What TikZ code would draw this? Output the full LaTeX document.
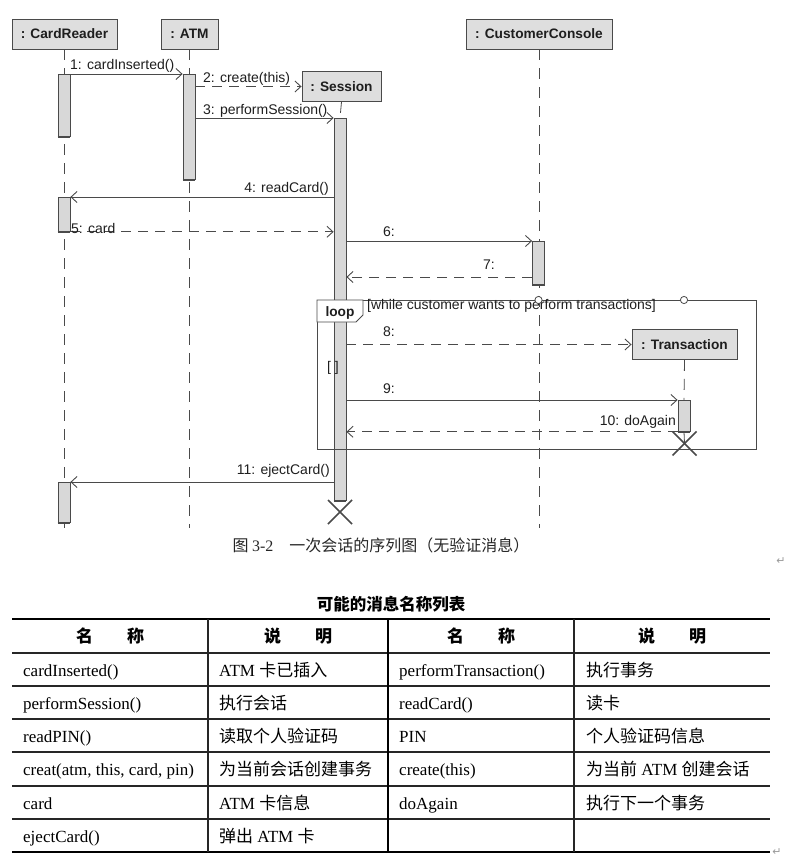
\documentclass[tikz,border=0pt]{standalone}
\usepackage{fontspec}
\setmainfont{Liberation Serif}
\newfontfamily\umlfont{Liberation Sans}
\newfontfamily\cjk{Noto Sans CJK SC}
\newfontfamily\symfont{DejaVu Sans}
\usetikzlibrary{arrows.meta,calc}
\definecolor{linec}{HTML}{4A4A4A}
\definecolor{boxfill}{HTML}{DEDEDE}
\definecolor{actfill}{HTML}{D8D8D8}
\definecolor{textc}{HTML}{1E1E1E}
\definecolor{markc}{HTML}{9A9A9A}
\tikzset{
  obj/.style={draw=linec, fill=boxfill, line width=0.9pt, text=textc,
    font=\umlfont\bfseries\fontsize{13.7}{15}\selectfont, minimum height=30pt, inner sep=0pt},
  act/.style={draw=linec, fill=actfill, line width=0.8pt, minimum width=12pt, inner sep=0pt, anchor=north},
  life/.style={draw=linec, line width=0.8pt, dash pattern=on 11pt off 8pt},
  msg/.style={draw=linec, line width=0.8pt, -{Straight Barb[length=6pt,width=11pt,line width=0.9pt]}},
  retmsg/.style={msg, dash pattern=on 10pt off 7pt},
  lbl/.style={font=\umlfont\fontsize{14}{16}\selectfont, inner sep=0pt, text=textc},
  tagtxt/.style={font=\umlfont\bfseries\fontsize{13.7}{15}\selectfont, inner sep=0pt, text=textc},
  cell/.style={font=\fontsize{17}{19}\selectfont, inner sep=0pt, anchor=base west, text=black},
  hcell/.style={font=\cjk\bfseries\fontsize{17}{19}\selectfont, inner sep=0pt, anchor=base, text=black},
  tline/.style={line width=1.3pt, draw=black!85},
  tthick/.style={line width=2.6pt, draw=black},
  endx/.style={draw=linec, line width=1.6pt},
}
\begin{document}
\begin{tikzpicture}[x=1pt,y=-1pt]
\useasboundingbox (0,0) rectangle (803,861);

% ---------- object headers ----------
\node[obj, minimum width=105pt] (cr) at (64.5,34) {: CardReader};
\node[obj, minimum width=57pt] (atm) at (189.5,34) {: ATM};
\node[obj, minimum width=146pt] (cc) at (539,34) {: CustomerConsole};
\node[obj, minimum width=79pt] (sess) at (341.5,86.5) {: Session};
\node[obj, minimum width=105pt] (tr) at (684.5,344.5) {: Transaction};

\coordinate (lend) at (0,528);
\coordinate (xs) at (340,512);
\coordinate (xt) at (684.5,443.5);

% ---------- lifelines ----------
\draw[life] (cr.south) -- (cr.south |- lend);
\draw[life] (atm.south) -- (atm.south |- lend);
\draw[life] (cc.south) -- (cc.south |- lend);

% ---------- activation bars ----------
\node[act, minimum height=62pt] (crA1) at (64,74) {};
\node[act, minimum height=34pt] (crA2) at (64,197) {};
\node[act, minimum height=40pt] (crA3) at (64,482) {};
\node[act, minimum height=105pt] (atmA) at (189,74) {};
\node[act, minimum height=382pt] (sesA) at (340,118) {};
\node[act, minimum height=43pt] (ccA) at (538.5,241) {};
\node[act, minimum height=31pt] (trA) at (684,400) {};
\foreach \b in {crA1,crA2,crA3,atmA,sesA,ccA,trA}
  \draw[draw=linec, line width=1.6pt] (\b.south west) -- (\b.south east);

\draw[life] (sess.south) -- (sesA.north);
\draw[life] (tr.south) -- (trA.north);
\draw[draw=linec, line width=0.8pt] (trA.south) -- (xt);

% ---------- loop frame ----------
\draw[draw=linec, line width=0.9pt] (317,300) rectangle (756,449);
\draw[draw=linec, line width=0.9pt, fill=white] (317,300) -- (363,300) -- (363,315) -- (356,322) -- (317,322) -- cycle;
\node[tagtxt] (looptag) at (340,313) {loop};
\node[lbl, anchor=west] (guard) at (367,306) {[while customer wants to perform transactions]};
\node[lbl, anchor=west] (emptyg) at (327,368) {[ ]};
\draw[draw=linec, line width=0.8pt, fill=white] (538.5,300) circle (3.6pt);
\draw[draw=linec, line width=0.8pt, fill=white] (684,300) circle (3.6pt);

% ---------- messages ----------
\draw[msg] (crA1.north east) -- (atmA.north west);
\node[lbl, anchor=west] (l1) at (70,66) {1: cardInserted()};

\draw[retmsg] (atmA.east |- sess.west) -- (sess.west);
\node[lbl, anchor=west] (l2) at (203,79) {2: create(this)};

\draw[msg] (atmA.east |- sesA.north) -- (sesA.north west);
\node[lbl, anchor=west] (l3) at (203,111) {3: performSession()};

\draw[msg] (sesA.west |- crA2.north) -- (crA2.north east);
\node[lbl, anchor=east] (l4) at (329,189) {4: readCard()};

\draw[retmsg] (crA2.south east) -- (sesA.west |- crA2.south);
\node[lbl, anchor=west] (l5) at (71,228) {5: card};

\draw[msg] (sesA.east |- ccA.north) -- (ccA.north west);
\node[lbl, anchor=west] (l6) at (383,232) {6:};

\coordinate (m7) at (0,277);
\draw[retmsg] (ccA.west |- m7) -- (sesA.east |- m7);
\node[lbl, anchor=west] (l7) at (483,265) {7:};

\draw[retmsg] (sesA.east |- tr.west) -- (tr.west);
\node[lbl, anchor=west] (l8) at (383,332) {8:};

\draw[msg] (sesA.east |- trA.north) -- (trA.north west);
\node[lbl, anchor=west] (l9) at (383,389) {9:};

\draw[retmsg] (trA.south west) -- (sesA.east |- trA.south);
\node[lbl, anchor=east] (l10) at (676,422) {10: doAgain};

\draw[msg] (sesA.west |- crA3.north) -- (crA3.north east);
\node[lbl, anchor=east] (l11) at (330,471) {11: ejectCard()};

% ---------- destruction marks ----------
\draw[endx] (xs) +(-12,-12) -- +(12,12);
\draw[endx] (xs) +(-12,12) -- +(12,-12);
\draw[endx] (xt) +(-12,-12) -- +(12,12);
\draw[endx] (xt) +(-12,12) -- +(12,-12);

% ---------- caption ----------
\node[font=\cjk\fontsize{16}{18}\selectfont, inner sep=0pt, text=black!85] (cap) at (381,545)
  {图 {\rmfamily 3-2}\hspace{1em}一次会话的序列图（无验证消息）};
\node[font=\symfont\fontsize{11}{12}\selectfont, text=markc, inner sep=0pt] (pm1) at (781,561) {↵};

% ---------- table ----------
\node[font=\cjk\bfseries\fontsize{16.5}{18}\selectfont, inner sep=0pt] (ttl) at (391,604) {可能的消息名称列表};

\draw[tthick] (12,619) -- (770,619);
\draw[tthick] (12,852) -- (770,852);
\foreach \yy in {653,686,719,752,786,819}
  \draw[tline] (12,\yy) -- (770,\yy);
\draw[tline] (208,619) -- (208,852);
\draw[line width=2pt, draw=black] (388,619) -- (388,852);
\draw[tline] (574,619) -- (574,852);

\node[hcell] (h1) at (110,642) {名\hspace{2em}称};
\node[hcell] (h2) at (298,642) {说\hspace{2em}明};
\node[hcell] (h3) at (481,642) {名\hspace{2em}称};
\node[hcell] (h4) at (672,642) {说\hspace{2em}明};

\node[cell] (a1) at (23,676) {cardInserted()};
\node[cell] (b1) at (219,676) {ATM {\cjk 卡已插入}};
\node[cell] (c1) at (399,676) {performTransaction()};
\node[cell] (d1) at (586,676) {\cjk 执行事务};

\node[cell] (a2) at (23,709) {performSession()};
\node[cell] (b2) at (219,709) {\cjk 执行会话};
\node[cell] (c2) at (399,709) {readCard()};
\node[cell] (d2) at (586,709) {\cjk 读卡};

\node[cell] (a3) at (23,742) {readPIN()};
\node[cell] (b3) at (219,742) {\cjk 读取个人验证码};
\node[cell] (c3) at (399,742) {PIN};
\node[cell] (d3) at (586,742) {\cjk 个人验证码信息};

\node[cell] (a4) at (23,775.5) {creat(atm, this, card, pin)};
\node[cell] (b4) at (219,775.5) {\cjk 为当前会话创建事务};
\node[cell] (c4) at (399,775.5) {create(this)};
\node[cell] (d4) at (586,775.5) {{\cjk 为当前} ATM {\cjk 创建会话}};

\node[cell] (a5) at (23,809) {card};
\node[cell] (b5) at (219,809) {ATM {\cjk 卡信息}};
\node[cell] (c5) at (399,809) {doAgain};
\node[cell] (d5) at (586,809) {\cjk 执行下一个事务};

\node[cell] (a6) at (23,842) {ejectCard()};
\node[cell] (b6) at (219,842) {{\cjk 弹出} ATM {\cjk 卡}};

\node[font=\symfont\fontsize{11}{12}\selectfont, text=markc, inner sep=0pt] (pm2) at (777,852) {↵};
\end{tikzpicture}
\end{document}
